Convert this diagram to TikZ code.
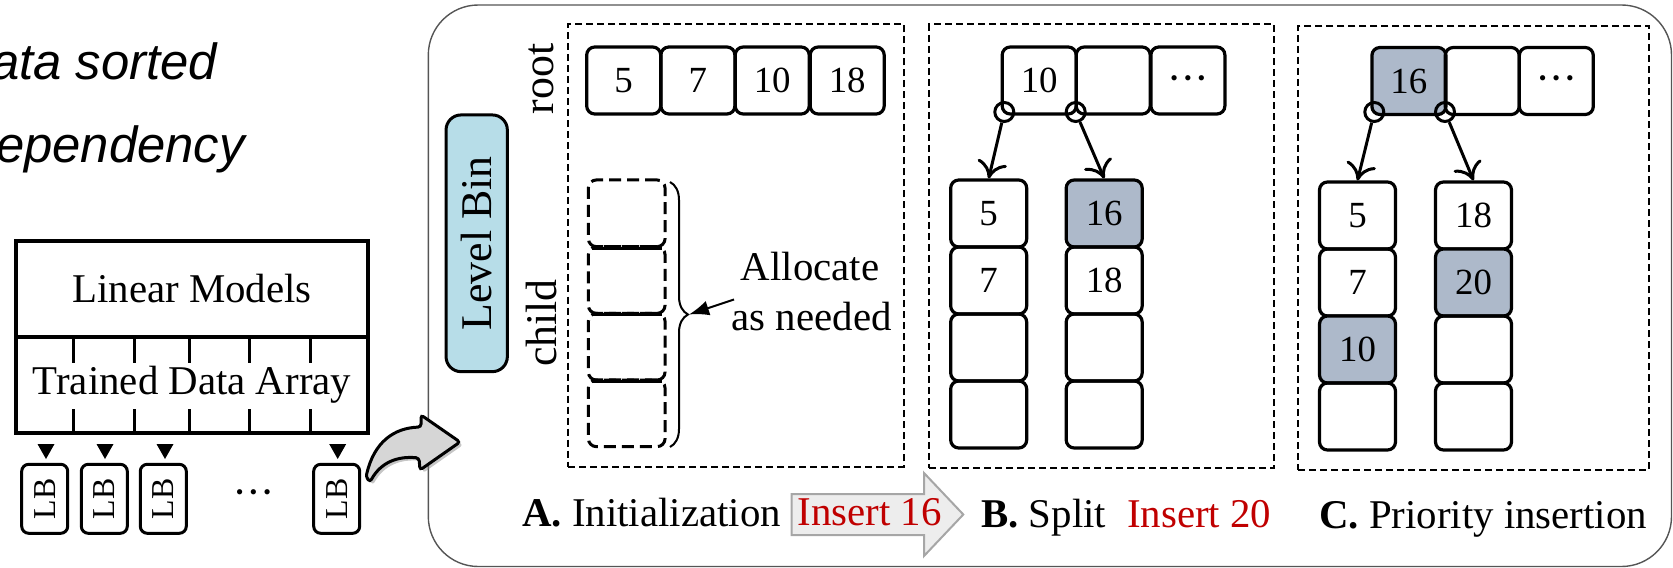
\documentclass[tikz,border=0pt]{standalone}
\usepackage{fontspec}
\setmainfont{Liberation Serif}
\newfontfamily\sansfam{Liberation Sans}
\usetikzlibrary{arrows.meta,decorations.pathreplacing,shadows,calc}
\newcommand\setfs[1]{\fontsize{#1}{#1}\selectfont}
\newcommand\bigdots{{\setfs{22}\textbullet\hspace{6bp}\textbullet\hspace{6bp}\textbullet}}
\definecolor{hlblue}{HTML}{ADB9CA}
\definecolor{lbblue}{HTML}{B7DDE8}
\definecolor{bendgray}{HTML}{D6D6D6}
\definecolor{insfill}{HTML}{EDEDED}
\definecolor{insedge}{HTML}{A6A6A6}
\definecolor{redtxt}{HTML}{C00000}
\definecolor{frame}{HTML}{555555}
\begin{document}
\begin{tikzpicture}[x=1bp,y=-1bp,
  txt/.style={inner sep=0pt, font=\setfs{41}},
  cell/.style={draw, line width=3.2bp, rounded corners=8bp, minimum width=74bp,
    minimum height=67bp, inner sep=0pt, font=\setfs{37}},
  colcell/.style={cell, minimum width=76bp},
  hl/.style={fill=hlblue},
  slot/.style={draw, line width=3bp, dash pattern=on 12bp off 6bp, rounded corners=8bp,
    minimum width=76.7bp, minimum height=66.7bp, inner sep=0pt},
  panel/.style={draw, line width=2bp, dash pattern=on 7bp off 4bp, inner sep=0pt},
  ptr/.style={circle, draw, line width=3bp, minimum size=19bp, inner sep=0pt},
  ptrarrow/.style={line width=3bp, -{Computer Modern Rightarrow[length=17bp,width=30bp]}},
  lbbox/.style={draw, line width=3bp, rounded corners=7bp, rotate=90, minimum width=69bp,
    minimum height=46bp, inner sep=0pt, font=\setfs{32}},
  vlabel/.style={rotate=90, inner sep=0pt, font=\setfs{44}}
]
\useasboundingbox (0,0) rectangle (1673,568);

% heading fragments on the left
\node[anchor=base west, inner sep=0pt, font=\sansfam\itshape\setfs{51}] (h1) at (-9,80) {ata sorted};
\node[anchor=base west, inner sep=0pt, font=\sansfam\itshape\setfs{51}] (h2) at (-4,163) {ependency};

% linear models over the trained data array
\node[draw, line width=3.4bp, minimum width=352bp, minimum height=96.3bp, inner sep=0pt, font=\setfs{41}]
  (lm) at (192,289) {Linear Models};
\node[draw, line width=3.4bp, minimum width=352bp, minimum height=95.7bp, inner sep=0pt, font=\setfs{41}]
  (tda) at (192,385.2) {Trained Data Array};
\foreach \x in {73.3,134.3,189,249.3,310}{
  \draw[line width=3bp] (\x,337.3) -- (\x,363);
  \draw[line width=3bp] (\x,409.3) -- (\x,433);
}

% level bins
\node[lbbox] (lb1) at (44.7,498.8) {LB};
\node[lbbox] (lb2) at (104.3,498.8) {LB};
\node[lbbox] (lb3) at (163.3,498.8) {LB};
\node[lbbox] (lb4) at (336.7,498.8) {LB};
\node[inner sep=0pt] (lbdots) at (253.5,495) {\bigdots};
\foreach \x in {46,105,165,337.7}{
  \fill (\x-8.5,444) -- (\x+8.5,444) -- (\x,459) -- cycle;
}

% outer frame of the level bin view
\draw[frame, line width=1.4bp, rounded corners=50bp] (428.3,5) rectangle (1671.5,566.5);

% bent arrow into the level bin view
\path[draw, fill=bendgray, line width=3bp, rounded corners=3bp,
  drop shadow={shadow xshift=3bp, shadow yshift=-3bp, opacity=0.45}]
  (366,477) .. controls (374,442) and (394,428) .. (421,427) -- (421,415) -- (460,442)
  -- (420,470) -- (419,458) .. controls (398,456) and (381,462) .. (370,482) -- cycle;

% level bin tag and row labels
\node[draw, line width=3bp, rounded corners=15bp, fill=lbblue, rotate=90,
  minimum width=256.7bp, minimum height=61.3bp, inner sep=0pt, font=\setfs{44}]
  (lvl) at (476.7,243.3) {Level Bin};
\node[vlabel] (rootlbl) at (541,79) {root};
\node[vlabel] (childlbl) at (541,323) {child};

% ---------- A: initialization ----------
\node[panel, minimum width=335.7bp, minimum height=442.4bp] (pA) at (736.2,245.5) {};
\node[cell] (ra1) at (623.7,80.5) {5};
\node[cell] (ra2) at (697.9,80.5) {7};
\node[cell] (ra3) at (772.2,80.5) {10};
\node[cell] (ra4) at (847.2,80.5) {18};
\node[slot] (sa1) at (626.7,213.3) {};
\node[slot] (sa2) at (626.7,280) {};
\node[slot] (sa3) at (626.7,346.7) {};
\node[slot] (sa4) at (626.7,413.3) {};
\foreach \a in {sa1,sa2,sa3}{
  \draw[line width=3bp] ($(\a.south west)+(5,0)$) -- ($(\a.south east)+(-5,0)$);
}
\coordinate (bracetop) at (670,182);
\coordinate (bracebot) at (670,447);
\draw[line width=2bp, decorate, decoration={brace, amplitude=18bp}] (bracetop) -- (bracebot);
\coordinate (bracetip) at (689,314.5);
\node[txt, anchor=base] (al1) at (810,280) {Allocate};
\node[txt, anchor=base] (al2) at (811.7,330) {as needed};
\coordinate (altail) at (734,299.5);
\draw[line width=2bp, -{Latex[length=20bp,width=15bp]}] (altail) -- (bracetip);

% ---------- B: split ----------
\node[panel, minimum width=344.7bp, minimum height=444bp] (pB) at (1101.7,246.3) {};
\node[cell] (rb1) at (1039.2,80.5) {10};
\node[cell] (rb2) at (1113.2,80.5) {};
\node[cell] (rb3) at (1187.9,80.5) {\bigdots};
\node[colcell] (b11) at (988.7,213.5) {5};
\node[colcell] (b12) at (988.7,280.5) {7};
\node[colcell] (b13) at (988.7,347.5) {};
\node[colcell] (b14) at (988.7,414.5) {};
\node[colcell, hl] (b21) at (1104.2,213.5) {16};
\node[colcell] (b22) at (1104.2,280.5) {18};
\node[colcell] (b23) at (1104.2,347.5) {};
\node[colcell] (b24) at (1104.2,414.5) {};
\node[ptr] (pb1) at (1004.3,112) {};
\node[ptr] (pb2) at (1075.7,112) {};
\draw[ptrarrow] (pb1) -- (b11.north);
\draw[ptrarrow] (pb2) -- (b21.north);

% ---------- C: priority insertion ----------
\node[panel, minimum width=351bp, minimum height=444bp] (pC) at (1473.8,248) {};
\node[cell, hl] (rc1) at (1408.9,81) {16};
\node[cell] (rc2) at (1482.2,81) {};
\node[cell] (rc3) at (1556.3,81) {\bigdots};
\node[colcell] (c11) at (1357.5,215.5) {5};
\node[colcell] (c12) at (1357.5,282.5) {7};
\node[colcell, hl] (c13) at (1357.5,349.5) {10};
\node[colcell] (c14) at (1357.5,416.5) {};
\node[colcell] (c21) at (1473.5,215.5) {18};
\node[colcell, hl] (c22) at (1473.5,282.5) {20};
\node[colcell] (c23) at (1473.5,349.5) {};
\node[colcell] (c24) at (1473.5,416.5) {};
\node[ptr] (pc1) at (1374.3,112) {};
\node[ptr] (pc2) at (1445,112) {};
\draw[ptrarrow] (pc1) -- (c11.north);
\draw[ptrarrow] (pc2) -- (c21.north);

% ---------- captions ----------
\path[draw=insedge, fill=insfill, line width=2bp]
  (791.7,494) -- (924,494) -- (924,473) -- (963.3,514.5) -- (924,556) -- (924,535)
  -- (791.7,535) -- cycle;
\node[txt, anchor=base west] (capA) at (522,526) {\textbf{A.} Initialization};
\node[txt, anchor=base west, text=redtxt] (ins16) at (797.5,525) {Insert 16};
\node[txt, anchor=base west] (capB) at (981,527) {\textbf{B.} Split};
\node[txt, anchor=base west, text=redtxt] (ins20) at (1127,527) {Insert 20};
\node[txt, anchor=base west] (capC) at (1319,528) {\textbf{C.} Priority insertion};
\end{tikzpicture}
\end{document}
